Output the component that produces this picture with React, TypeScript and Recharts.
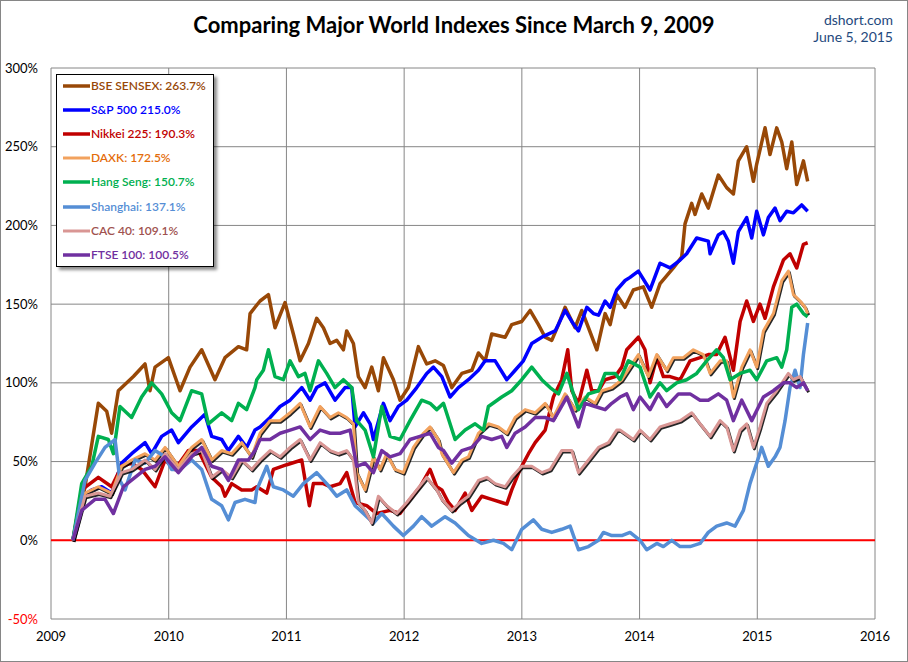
import React from 'react';
import { LineChart, Line, XAxis, YAxis, CartesianGrid, ReferenceLine } from 'recharts';

const FONT = 'Lato, "Open Sans", sans-serif';

const yearTicks = [2009, 2010, 2011, 2012, 2013, 2014, 2015, 2016];
const pctTicks = [-50, 0, 50, 100, 150, 200, 250, 300];

// [decimal year, % change since March 9, 2009]
const bse: [number, number][] = [
  [2009.186, 0], [2009.289, 34], [2009.402, 87], [2009.473, 82], [2009.515, 68], [2009.572, 95],
  [2009.7, 104], [2009.799, 112], [2009.841, 95], [2009.884, 110], [2009.997, 116], [2010.096, 95],
  [2010.181, 110], [2010.28, 121], [2010.393, 102], [2010.478, 116], [2010.592, 123], [2010.662, 121],
  [2010.691, 144], [2010.733, 148], [2010.776, 152], [2010.847, 156], [2010.903, 135], [2010.988, 151],
  [2011.059, 131], [2011.116, 114], [2011.187, 125], [2011.257, 141], [2011.314, 135], [2011.371, 125],
  [2011.427, 127], [2011.484, 121], [2011.512, 133], [2011.569, 125], [2011.611, 104], [2011.668, 97],
  [2011.725, 110], [2011.781, 95], [2011.824, 116], [2011.909, 102], [2011.965, 89], [2012.036, 97],
  [2012.121, 123], [2012.192, 112], [2012.263, 114], [2012.334, 111], [2012.405, 97], [2012.49, 106],
  [2012.575, 108], [2012.631, 119], [2012.688, 114], [2012.744, 131], [2012.858, 129], [2012.914, 137],
  [2012.999, 139], [2013.07, 146], [2013.141, 137], [2013.198, 129], [2013.254, 127], [2013.311, 137],
  [2013.367, 148], [2013.452, 135], [2013.509, 146], [2013.566, 135], [2013.637, 121], [2013.707, 144],
  [2013.75, 137], [2013.806, 156], [2013.876, 148], [2013.947, 159], [2014.032, 161], [2014.103, 148],
  [2014.174, 163], [2014.287, 173], [2014.358, 180], [2014.386, 201], [2014.443, 214], [2014.471, 207],
  [2014.528, 220], [2014.584, 211], [2014.669, 232], [2014.74, 224], [2014.797, 220], [2014.839, 241],
  [2014.91, 250], [2014.967, 228], [2014.995, 239], [2015.066, 262], [2015.108, 245], [2015.165, 262],
  [2015.208, 253], [2015.25, 236], [2015.293, 253], [2015.335, 226], [2015.392, 241], [2015.428, 228],
];

const sp500: [number, number][] = [
  [2009.186, 0], [2009.261, 28], [2009.346, 32], [2009.431, 34], [2009.515, 30], [2009.6, 49],
  [2009.685, 55], [2009.799, 62], [2009.855, 55], [2009.94, 66], [2010.025, 70], [2010.082, 62],
  [2010.195, 72], [2010.308, 80], [2010.365, 66], [2010.45, 64], [2010.507, 57], [2010.592, 66],
  [2010.662, 59], [2010.733, 70], [2010.776, 72], [2010.861, 78], [2010.946, 85], [2011.031, 89],
  [2011.13, 97], [2011.201, 89], [2011.257, 97], [2011.328, 100], [2011.413, 89], [2011.498, 97],
  [2011.555, 97], [2011.583, 72], [2011.654, 81], [2011.711, 74], [2011.739, 64], [2011.824, 87],
  [2011.88, 76], [2011.951, 85], [2012.022, 89], [2012.107, 97], [2012.192, 106], [2012.249, 110],
  [2012.32, 104], [2012.39, 91], [2012.461, 97], [2012.546, 102], [2012.631, 108], [2012.688, 114],
  [2012.773, 114], [2012.872, 102], [2012.943, 108], [2013.013, 114], [2013.084, 125], [2013.169, 129],
  [2013.283, 133], [2013.367, 146], [2013.424, 139], [2013.481, 133], [2013.552, 148], [2013.608, 144],
  [2013.651, 143], [2013.707, 152], [2013.75, 148], [2013.806, 159], [2013.877, 165], [2013.919, 167],
  [2013.99, 171], [2014.089, 159], [2014.174, 176], [2014.259, 173], [2014.344, 178], [2014.4, 182],
  [2014.485, 192], [2014.584, 190], [2014.599, 182], [2014.669, 194], [2014.712, 196], [2014.754, 190],
  [2014.797, 176], [2014.839, 196], [2014.91, 205], [2014.953, 192], [2014.995, 209], [2015.052, 194],
  [2015.094, 205], [2015.151, 211], [2015.193, 203], [2015.25, 209], [2015.307, 208], [2015.377, 213],
  [2015.428, 209],
];

const nikkei: [number, number][] = [
  [2009.186, 0], [2009.261, 32], [2009.402, 40], [2009.515, 34], [2009.6, 47], [2009.685, 49],
  [2009.77, 45], [2009.884, 34], [2009.969, 51], [2010.053, 45], [2010.167, 57], [2010.252, 57],
  [2010.365, 40], [2010.45, 34], [2010.478, 28], [2010.535, 36], [2010.62, 32], [2010.705, 32],
  [2010.748, 34], [2010.833, 30], [2010.889, 45], [2011.003, 48], [2011.13, 51], [2011.195, 22],
  [2011.229, 36], [2011.314, 36], [2011.371, 34], [2011.456, 36], [2011.512, 43], [2011.583, 24],
  [2011.682, 22], [2011.767, 17], [2011.88, 19], [2011.965, 17], [2012.05, 26], [2012.135, 34],
  [2012.22, 45], [2012.277, 34], [2012.32, 32], [2012.376, 24], [2012.433, 19], [2012.518, 30],
  [2012.575, 19], [2012.659, 28], [2012.744, 26], [2012.829, 24], [2012.872, 23], [2012.914, 32],
  [2012.985, 45], [2013.056, 55], [2013.113, 62], [2013.198, 70], [2013.268, 91], [2013.339, 102],
  [2013.39, 121], [2013.424, 95], [2013.481, 87], [2013.552, 108], [2013.594, 95], [2013.651, 95],
  [2013.707, 102], [2013.792, 104], [2013.849, 110], [2013.891, 121], [2013.99, 129], [2014.046, 121],
  [2014.089, 100], [2014.146, 116], [2014.202, 104], [2014.259, 104], [2014.344, 102], [2014.429, 114],
  [2014.514, 116], [2014.584, 118], [2014.655, 118], [2014.726, 129], [2014.797, 108], [2014.854, 139],
  [2014.91, 152], [2014.967, 139], [2015.023, 150], [2015.066, 141], [2015.137, 161], [2015.222, 178],
  [2015.278, 182], [2015.335, 173], [2015.392, 188], [2015.428, 189],
];

const daxk: [number, number][] = [
  [2009.186, 0], [2009.289, 30], [2009.402, 34], [2009.515, 30], [2009.6, 47], [2009.685, 51],
  [2009.799, 55], [2009.884, 51], [2009.969, 59], [2010.082, 47], [2010.195, 59], [2010.28, 64],
  [2010.365, 51], [2010.45, 57], [2010.535, 55], [2010.62, 62], [2010.705, 53], [2010.776, 68],
  [2010.861, 76], [2010.946, 76], [2011.031, 81], [2011.116, 87], [2011.201, 72], [2011.286, 85],
  [2011.371, 78], [2011.441, 81], [2011.512, 78], [2011.569, 74], [2011.597, 43], [2011.668, 32],
  [2011.739, 53], [2011.795, 45], [2011.852, 55], [2011.923, 45], [2011.993, 43], [2012.079, 59],
  [2012.164, 68], [2012.22, 72], [2012.291, 64], [2012.32, 55], [2012.419, 43], [2012.49, 51],
  [2012.546, 53], [2012.631, 68], [2012.716, 74], [2012.801, 72], [2012.872, 68], [2012.943, 78],
  [2013.028, 83], [2013.113, 81], [2013.198, 87], [2013.268, 78], [2013.367, 93], [2013.452, 83],
  [2013.537, 91], [2013.622, 87], [2013.679, 95], [2013.764, 97], [2013.849, 102], [2013.919, 110],
  [2013.99, 118], [2014.075, 104], [2014.146, 118], [2014.23, 108], [2014.287, 116], [2014.372, 116],
  [2014.457, 121], [2014.542, 118], [2014.599, 106], [2014.684, 114], [2014.74, 114], [2014.797, 91],
  [2014.868, 110], [2014.938, 121], [2014.995, 110], [2015.052, 133], [2015.137, 144], [2015.208, 165],
  [2015.264, 171], [2015.307, 156], [2015.363, 152], [2015.406, 148], [2015.428, 144],
];

const hangSeng: [number, number][] = [
  [2009.186, 0], [2009.261, 36], [2009.346, 47], [2009.402, 66], [2009.487, 64], [2009.53, 55],
  [2009.586, 85], [2009.685, 78], [2009.77, 91], [2009.855, 100], [2009.94, 93], [2010.025, 81],
  [2010.096, 76], [2010.195, 95], [2010.28, 93], [2010.337, 74], [2010.45, 81], [2010.535, 76],
  [2010.592, 87], [2010.662, 83], [2010.733, 97], [2010.748, 102], [2010.804, 108], [2010.847, 121],
  [2010.903, 104], [2010.974, 102], [2011.031, 114], [2011.102, 104], [2011.158, 106], [2011.201, 95],
  [2011.272, 114], [2011.342, 106], [2011.413, 97], [2011.484, 102], [2011.555, 97], [2011.597, 76],
  [2011.668, 70], [2011.739, 53], [2011.81, 85], [2011.88, 66], [2011.965, 64], [2012.05, 76],
  [2012.149, 89], [2012.22, 87], [2012.277, 83], [2012.334, 87], [2012.433, 64], [2012.518, 70],
  [2012.603, 74], [2012.674, 70], [2012.716, 85], [2012.829, 91], [2012.914, 95], [2012.999, 102],
  [2013.084, 110], [2013.169, 102], [2013.24, 97], [2013.311, 93], [2013.382, 106], [2013.481, 83],
  [2013.566, 93], [2013.651, 95], [2013.707, 106], [2013.792, 106], [2013.834, 102], [2013.905, 114],
  [2014.004, 110], [2014.089, 91], [2014.174, 100], [2014.23, 95], [2014.315, 100], [2014.4, 102],
  [2014.485, 106], [2014.57, 114], [2014.655, 121], [2014.712, 116], [2014.769, 102], [2014.854, 106],
  [2014.938, 108], [2014.995, 102], [2015.08, 114], [2015.165, 116], [2015.208, 110], [2015.25, 121],
  [2015.293, 148], [2015.335, 150], [2015.392, 144], [2015.428, 142],
];

const shanghai: [number, number][] = [
  [2009.186, 0], [2009.289, 38], [2009.374, 49], [2009.459, 59], [2009.544, 64], [2009.586, 38],
  [2009.629, 32], [2009.714, 51], [2009.799, 49], [2009.884, 57], [2009.969, 53], [2010.025, 45],
  [2010.096, 45], [2010.195, 51], [2010.28, 45], [2010.365, 26], [2010.45, 22], [2010.507, 13],
  [2010.563, 24], [2010.648, 26], [2010.733, 24], [2010.748, 32], [2010.833, 47], [2010.889, 34],
  [2010.974, 32], [2011.059, 28], [2011.144, 36], [2011.257, 43], [2011.342, 36], [2011.427, 28],
  [2011.512, 32], [2011.583, 22], [2011.654, 17], [2011.739, 11], [2011.81, 17], [2011.909, 9],
  [2011.993, 3], [2012.079, 9], [2012.149, 15], [2012.234, 9], [2012.348, 15], [2012.433, 11],
  [2012.546, 3], [2012.659, -2], [2012.759, 0], [2012.844, -2], [2012.914, -6], [2012.999, 7],
  [2013.098, 13], [2013.169, 7], [2013.254, 5], [2013.339, 7], [2013.41, 9], [2013.481, -6],
  [2013.566, -4], [2013.651, 0], [2013.693, 5], [2013.764, 3], [2013.849, 3], [2013.919, 5],
  [2014.004, 0], [2014.061, -6], [2014.146, -2], [2014.202, -4], [2014.273, 0], [2014.344, -4],
  [2014.429, -4], [2014.514, -2], [2014.584, 5], [2014.655, 9], [2014.74, 11], [2014.811, 9],
  [2014.882, 19], [2014.938, 36], [2014.995, 49], [2015.037, 59], [2015.094, 47], [2015.151, 53],
  [2015.193, 59], [2015.236, 76], [2015.278, 97], [2015.321, 108], [2015.363, 97], [2015.392, 118],
  [2015.428, 138],
];

const cac40: [number, number][] = [
  [2009.186, 0], [2009.289, 28], [2009.402, 30], [2009.501, 28], [2009.6, 43], [2009.685, 45],
  [2009.799, 51], [2009.884, 45], [2009.969, 55], [2010.082, 45], [2010.195, 55], [2010.28, 57],
  [2010.365, 40], [2010.45, 45], [2010.535, 40], [2010.62, 51], [2010.705, 45], [2010.776, 51],
  [2010.861, 57], [2010.946, 53], [2011.031, 59], [2011.116, 64], [2011.201, 51], [2011.286, 62],
  [2011.371, 57], [2011.441, 55], [2011.512, 57], [2011.569, 51], [2011.611, 24], [2011.668, 19],
  [2011.725, 11], [2011.781, 28], [2011.852, 22], [2011.937, 17], [2012.022, 24], [2012.107, 32],
  [2012.192, 40], [2012.277, 32], [2012.32, 26], [2012.405, 19], [2012.475, 24], [2012.546, 28],
  [2012.631, 38], [2012.702, 40], [2012.773, 36], [2012.858, 34], [2012.914, 40], [2012.999, 47],
  [2013.084, 47], [2013.169, 43], [2013.24, 45], [2013.339, 57], [2013.424, 57], [2013.481, 43],
  [2013.566, 51], [2013.651, 59], [2013.736, 62], [2013.806, 70], [2013.834, 70], [2013.947, 64],
  [2014.004, 70], [2014.089, 64], [2014.174, 72], [2014.259, 74], [2014.344, 76], [2014.443, 81],
  [2014.514, 74], [2014.599, 66], [2014.684, 76], [2014.74, 72], [2014.797, 57], [2014.854, 70],
  [2014.91, 74], [2014.967, 59], [2015.023, 72], [2015.08, 87], [2015.165, 95], [2015.264, 106],
  [2015.307, 102], [2015.363, 104], [2015.428, 95],
];

const ftse100: [number, number][] = [
  [2009.186, 0], [2009.261, 19], [2009.374, 26], [2009.459, 26], [2009.53, 17], [2009.615, 34],
  [2009.714, 40], [2009.799, 45], [2009.884, 47], [2009.969, 53], [2010.082, 43], [2010.195, 53],
  [2010.28, 59], [2010.365, 47], [2010.45, 45], [2010.507, 38], [2010.592, 51], [2010.677, 51],
  [2010.733, 57], [2010.776, 64], [2010.861, 64], [2010.946, 68], [2011.031, 70], [2011.116, 72],
  [2011.201, 64], [2011.286, 70], [2011.371, 68], [2011.456, 68], [2011.541, 70], [2011.597, 47],
  [2011.668, 49], [2011.739, 43], [2011.81, 57], [2011.88, 53], [2011.965, 55], [2012.05, 64],
  [2012.135, 66], [2012.22, 68], [2012.291, 59], [2012.334, 57], [2012.405, 49], [2012.49, 57],
  [2012.575, 59], [2012.659, 66], [2012.744, 64], [2012.829, 66], [2012.872, 59], [2012.943, 68],
  [2013.028, 72], [2013.113, 78], [2013.198, 78], [2013.268, 76], [2013.382, 91], [2013.481, 72],
  [2013.537, 87], [2013.622, 85], [2013.707, 83], [2013.764, 87], [2013.834, 91], [2013.891, 93],
  [2013.947, 83], [2014.004, 91], [2014.089, 83], [2014.16, 93], [2014.23, 85], [2014.33, 93],
  [2014.429, 93], [2014.514, 89], [2014.584, 89], [2014.669, 93], [2014.74, 89], [2014.797, 76],
  [2014.868, 89], [2014.953, 76], [2015.052, 91], [2015.137, 95], [2015.222, 100], [2015.278, 100],
  [2015.335, 97], [2015.392, 100], [2015.428, 95],
];

type Series = {
  key: string;
  label: string;
  points: [number, number][];
  color: string;
  text: string;
  width: number;
  shadow?: boolean;
};

const series: Series[] = [
  { key: 'bse', label: 'BSE SENSEX: 263.7%', points: bse, color: '#984807', text: '#984807', width: 3.5 },
  { key: 'sp', label: 'S&P 500 215.0%', points: sp500, color: '#0000FF', text: '#0000FF', width: 3.5 },
  { key: 'nk', label: 'Nikkei 225: 190.3%', points: nikkei, color: '#C00000', text: '#C00000', width: 3.5 },
  { key: 'dax', label: 'DAXK: 172.5%', points: daxk, color: '#F2A25E', text: '#E46C0A', width: 3, shadow: true },
  { key: 'hs', label: 'Hang Seng: 150.7%', points: hangSeng, color: '#00B050', text: '#00B050', width: 3.5 },
  { key: 'sh', label: 'Shanghai: 137.1%', points: shanghai, color: '#558ED5', text: '#558ED5', width: 3.5 },
  { key: 'cac', label: 'CAC 40: 109.1%', points: cac40, color: '#D99694', text: '#A0524F', width: 3, shadow: true },
  { key: 'ftse', label: 'FTSE 100: 100.5%', points: ftse100, color: '#7030A0', text: '#7030A0', width: 3.5 },
];

const toRows = (pts: [number, number][]) => pts.map(([t, v]) => ({ t, v }));

const YTick = (props: any) => {
  const { x, y, payload } = props;
  const v = payload.value as number;
  return (
    <text x={x} y={y} dy={4.5} textAnchor="end" fill={v < 0 ? '#FF0000' : '#000000'} fontSize={13} fontFamily={FONT}>
      {v}%
    </text>
  );
};

const XTick = (props: any) => {
  const { x, y, payload } = props;
  return (
    <text x={x} y={y} dy={10} textAnchor="middle" fill="#000000" fontSize={13} fontFamily={FONT}>
      {payload.value}
    </text>
  );
};

export default function App() {
  return (
    <div
      style={{
        position: 'absolute',
        left: 0,
        top: 0,
        width: 908,
        height: 662,
        background: '#FFFFFF',
        border: '1px solid #868686',
        boxSizing: 'border-box',
        fontFamily: FONT,
        overflow: 'hidden',
      }}
    >
      <style>{`.shadowline { transform: translate(1px, 1.5px); }`}</style>
      <div style={{ position: 'absolute', left: -1, top: -1 }}>
        <LineChart width={908} height={662} margin={{ top: 68, right: 33, left: 0, bottom: 0 }}>
          <CartesianGrid stroke="#868686" strokeWidth={1} horizontal vertical />
          <XAxis
            dataKey="t"
            type="number"
            domain={[2009, 2016]}
            ticks={yearTicks}
            allowDataOverflow
            axisLine={false}
            tickLine={false}
            height={43}
            tick={<XTick />}
            tickMargin={6}
            interval={0}
          />
          <YAxis
            type="number"
            domain={[-50, 300]}
            ticks={pctTicks}
            allowDataOverflow
            axisLine={false}
            tickLine={false}
            width={51}
            tick={<YTick />}
            tickSize={0}
            tickMargin={13}
            interval={0}
          />
          <ReferenceLine y={0} stroke="#FF0000" strokeWidth={2} ifOverflow="extendDomain" />
          {series.flatMap((s) => {
            const rows = toRows(s.points);
            const els = [];
            if (s.shadow) {
              els.push(
                <Line
                  key={s.key + '-shadow'}
                  className="shadowline"
                  data={rows}
                  dataKey="v"
                  type="linear"
                  stroke="#000000"
                  strokeWidth={s.width}
                  strokeOpacity={0.85}
                  dot={false}
                  activeDot={false}
                  isAnimationActive={false}
                  strokeLinejoin="round"
                />
              );
            }
            els.push(
              <Line
                key={s.key}
                data={rows}
                dataKey="v"
                type="linear"
                stroke={s.color}
                strokeWidth={s.width}
                dot={false}
                activeDot={false}
                isAnimationActive={false}
                strokeLinejoin="round"
              />
            );
            return els;
          })}
        </LineChart>
      </div>

      <div
        style={{
          position: 'absolute',
          left: 0,
          top: 11,
          width: 906,
          textAlign: 'center',
          fontSize: 22,
          fontWeight: 700,
          color: '#000000',
          lineHeight: '26px',
        }}
      >
        Comparing Major World Indexes Since March 9, 2009
      </div>
      <div
        style={{
          position: 'absolute',
          right: 14,
          top: 10,
          textAlign: 'right',
          fontSize: 14,
          color: '#1F497D',
          lineHeight: '17px',
        }}
      >
        <div>dshort.com</div>
        <div>June 5, 2015</div>
      </div>

      <div
        style={{
          position: 'absolute',
          left: 55,
          top: 73,
          width: 158,
          height: 193,
          background: '#FFFFFF',
          border: '1px solid #000000',
          boxShadow: '3px 3px 3px rgba(0,0,0,0.45)',
          boxSizing: 'border-box',
        }}
      >
        {series.map((s, i) => (
          <div
            key={s.key}
            style={{
              position: 'absolute',
              left: 0,
              top: 10.5 + i * 24.2 - 8,
              height: 16,
              display: 'flex',
              alignItems: 'center',
              whiteSpace: 'nowrap',
            }}
          >
            <svg width={34} height={16} style={{ display: 'block' }}>
              <line x1={6} x2={33} y1={8} y2={8} stroke={s.color} strokeWidth={s.width} />
            </svg>
            <span style={{ fontSize: 12, color: s.text, fontWeight: 600, lineHeight: '16px' }}>{s.label}</span>
          </div>
        ))}
      </div>
    </div>
  );
}
